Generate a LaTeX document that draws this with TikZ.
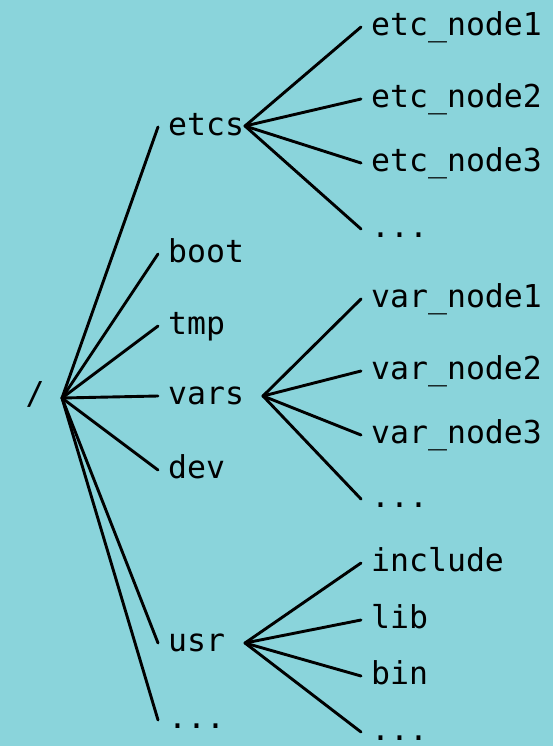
\documentclass[tikz,border=0pt]{standalone}
\usepackage{fontspec}
\newfontfamily\treefont{DejaVu Sans Mono}
\usepackage{tikz}
\definecolor{paper}{RGB}{138,212,219}
\tikzset{
  dirnode/.style  = {anchor=west, font=\treefont\fontsize{31.5}{31.5}\selectfont,
                     text height=17pt, text depth=0pt,
                     inner xsep=10pt, inner ysep=0pt},
  rootnode/.style = {dirnode, anchor=center},
  branch/.style   = {draw=black, line width=2.9pt, line cap=round}
}

\begin{document}
\begin{tikzpicture}[x=1pt,y=-1pt]
 \fill[paper] (0,0) rectangle (553,746);
 \useasboundingbox (0,0) rectangle (553,746);

  % root
  \node[rootnode] (root) at (35,396) {/};
  \coordinate (rootj) at (62,398);

  % first level
  \node[dirnode] (etcs) at (158,127) {etcs};
  \node[dirnode] (boot) at (158,254) {boot};
  \node[dirnode] (tmp)  at (158,326) {tmp};
  \node[dirnode] (vars) at (158,396) {vars};
  \node[dirnode] (dev)  at (158,470) {dev};
  \node[dirnode] (usr)  at (158,643) {usr};
  \node[dirnode] (more) at (158,720) {...};
  \coordinate (etcsj) at (245,126);
  \coordinate (varsj) at (263,396);
  \coordinate (usrj)  at (245,643);

  \draw[branch] (rootj) -- (etcs.west);
  \draw[branch] (rootj) -- (boot.west);
  \draw[branch] (rootj) -- (tmp.west);
  \draw[branch] (rootj) -- (vars.west);
  \draw[branch] (rootj) -- (dev.west);
  \draw[branch] (rootj) -- (usr.west);
  \draw[branch] (rootj) -- (more.west);

  % etcs
  \node[dirnode] (etc1)    at (361,27)  {etc\_node1};
  \node[dirnode] (etc2)    at (361,99)  {etc\_node2};
  \node[dirnode] (etc3)    at (361,163) {etc\_node3};
  \node[dirnode] (etcmore) at (361,229) {...};
  \draw[branch] (etcsj) -- (etc1.west);
  \draw[branch] (etcsj) -- (etc2.west);
  \draw[branch] (etcsj) -- (etc3.west);
  \draw[branch] (etcsj) -- (etcmore.west);

  % vars
  \node[dirnode] (var1)    at (361,299) {var\_node1};
  \node[dirnode] (var2)    at (361,371) {var\_node2};
  \node[dirnode] (var3)    at (361,435) {var\_node3};
  \node[dirnode] (varmore) at (361,499) {...};
  \draw[branch] (varsj) -- (var1.west);
  \draw[branch] (varsj) -- (var2.west);
  \draw[branch] (varsj) -- (var3.west);
  \draw[branch] (varsj) -- (varmore.west);

  % usr
  \node[dirnode] (include) at (361,563) {include};
  \node[dirnode] (lib)     at (361,620) {lib};
  \node[dirnode] (bin)     at (361,676) {bin};
  \node[dirnode] (usrmore) at (361,732) {...};
  \draw[branch] (usrj) -- (include.west);
  \draw[branch] (usrj) -- (lib.west);
  \draw[branch] (usrj) -- (bin.west);
  \draw[branch] (usrj) -- (usrmore.west);
\end{tikzpicture}
\end{document}
